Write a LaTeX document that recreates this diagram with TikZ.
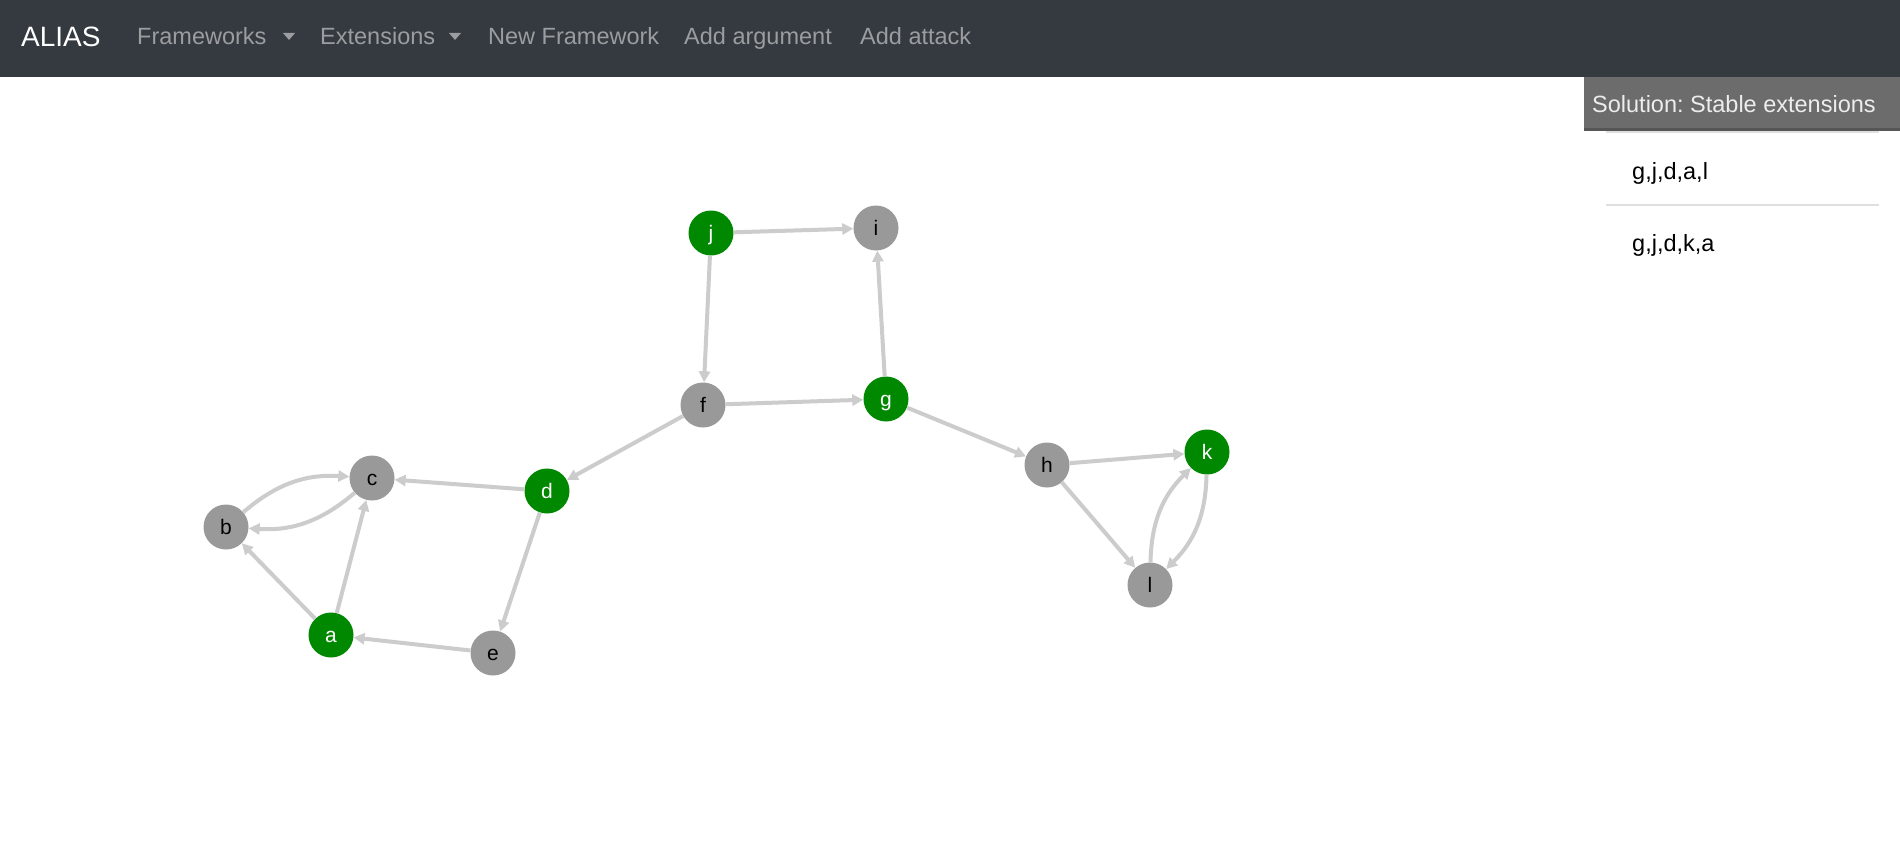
\documentclass[tikz,border=0pt]{standalone}
\usepackage{fontspec}
\setmainfont{Liberation Sans}
\usetikzlibrary{arrows.meta}
\definecolor{navbg}{RGB}{52,58,64}
\definecolor{navlink}{RGB}{155,157,160}
\definecolor{panelbg}{RGB}{108,108,108}
\definecolor{argfill}{RGB}{153,153,153}
\definecolor{accfill}{RGB}{0,136,0}
\definecolor{attackline}{RGB}{204,204,204}
\frenchspacing
\begin{document}
\begin{tikzpicture}[x=1pt,y=-1pt,
    argument/.style={circle,fill=argfill,minimum size=45pt,inner sep=0pt,text height=14.8pt,text depth=0pt,font=\fontsize{21}{25}\selectfont,text=black},
    accepted/.style={argument,fill=accfill,text=white},
    attack/.style={draw=attackline,line width=4pt,-{Triangle[length=11pt,width=11pt]}},
    navitem/.style={anchor=base west,text=navlink,font=\fontsize{23.5}{28}\selectfont,inner sep=0pt},
    listitem/.style={anchor=west,inner sep=0pt,font=\fontsize{23.5}{28}\selectfont},
    caret/.style={fill=navlink}]
      \useasboundingbox (0,0) rectangle (1900,843);
      \fill[white] (0,0) rectangle (1900,843);

      % top bar
      \fill[navbg] (0,0) rectangle (1900,77);
      \node[anchor=base west,text=white,inner sep=0pt,font=\fontsize{28}{34}\selectfont] (brand) at (21,47) {ALIAS};
      \foreach \item/\x in {Frameworks/137,Extensions/320,New Framework/488,Add argument/684,Add attack/860} {
        \node[navitem] at (\x,45) {\item};
      }
      \foreach \x in {289,455} {
        \fill[caret] (\x-6,33) -- (\x+6,33) -- (\x,40) -- cycle;
      }

      % solution panel
      \fill[panelbg] (1584,77) rectangle (1900,128);
      \fill[panelbg!80!black] (1584,128) rectangle (1900,131);
      \draw[gray!25,line width=1.5pt] (1606,132) -- (1879,132);
      \node[anchor=base west,text=white!93!black,inner sep=0pt,font=\fontsize{23.5}{28}\selectfont] (title) at (1592,112) {Solution: Stable extensions};
      \node[listitem] (sol1) at (1632,173) {g,j,d,a,l};
      \draw[gray!25,line width=1.5pt] (1606,205) -- (1879,205);
      \node[listitem] (sol2) at (1632,245) {g,j,d,k,a};

      % framework
      \foreach \name/\x/\y/\kind in {a/331/635/accepted,b/226/527/argument,c/372/478/argument,d/547/491/accepted,e/493/653/argument,f/703/405/argument,g/886/399/accepted,h/1047/465/argument,i/876/228/argument,j/711/233/accepted,k/1207/452/accepted,l/1150/585/argument} {
        \node[\kind] (\name) at (\x,\y) {\name};
      }
      \foreach \from/\to in {j/i,j/f,g/i,f/g,f/d,g/h,d/c,d/e,e/a,a/b,a/c,h/k,h/l} {
        \draw[attack] (\from) -- (\to);
      }
      \foreach \from/\to in {b/c,c/b,l/k,k/l} {
        \draw[attack] (\from) to[bend left=22] (\to);
      }

    \end{tikzpicture}
\end{document}
